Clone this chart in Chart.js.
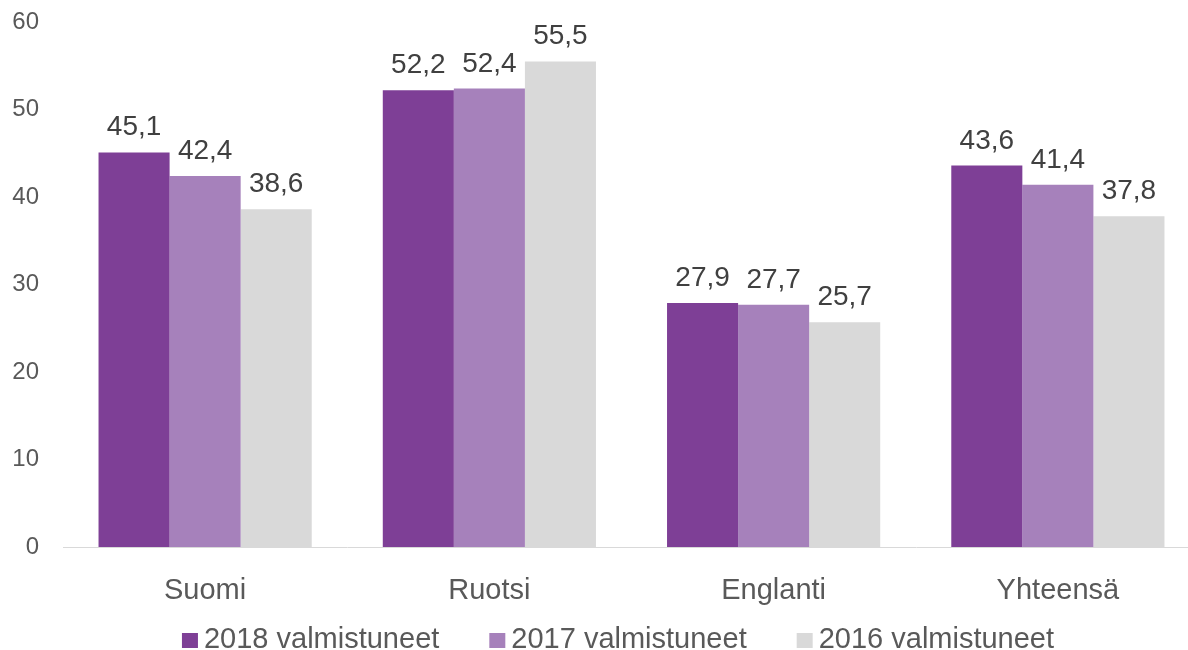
<!DOCTYPE html>
<html lang="fi">
<head>
    <meta charset="UTF-8">
    <title>Valmistuneet</title>
    <script src="https://cdn.jsdelivr.net/npm/chart.js@4/dist/chart.umd.min.js"></script>
    <style>
        body { margin: 0; background: #fff; overflow: hidden; }
        #wrap { width: 1188px; height: 650px; overflow: hidden; }
    </style>
</head>
<body>
<div id="wrap"><canvas id="myChart" width="1200" height="650"></canvas></div>
<script>
    // Data
    const categories = ['Suomi', 'Ruotsi', 'Englanti', 'Yhteensä'];
    const seriesNames = ['2018 valmistuneet', '2017 valmistuneet', '2016 valmistuneet'];
    const values2018 = [45.1, 52.2, 27.9, 43.6];
    const values2017 = [42.4, 52.4, 27.7, 41.4];
    const values2016 = [38.6, 55.5, 25.7, 37.8];
    const yTicks = [0, 10, 20, 30, 40, 50, 60];

    const colors = ['#7e3f96', '#a681bb', '#d9d9d9'];
    const fontFamily = '"Liberation Sans", Arial, sans-serif';

    // arvot palkkien päälle, pilkku desimaalierottimena
    const valueLabels = {
        id: 'valueLabels',
        afterDatasetsDraw(chart) {
            const ctx = chart.ctx;
            ctx.save();
            ctx.font = '28px ' + fontFamily;
            ctx.fillStyle = '#404040';
            ctx.textAlign = 'center';
            ctx.textBaseline = 'alphabetic';
            chart.data.datasets.forEach((ds, i) => {
                chart.getDatasetMeta(i).data.forEach((bar, j) => {
                    let txt = ds.data[j].toFixed(1).replace('.', ',');
                    ctx.fillText(txt, bar.x, bar.y - 17);
                });
            });
            ctx.restore();
        }
    };

    // selite alareunaan (Excel-tyylinen: pieni väli laatikon ja tekstin välissä)
    const bottomLegend = {
        id: 'bottomLegend',
        afterDraw(chart) {
            const ctx = chart.ctx;
            const box = 16, gap = 6, spacing = 50, center = 618, baseline = 648;
            ctx.save();
            ctx.font = '29px ' + fontFamily;
            ctx.textBaseline = 'alphabetic';
            const items = chart.data.datasets.map(ds => ({
                text: ds.label, color: ds.backgroundColor, w: ctx.measureText(ds.label).width
            }));
            let total = items.reduce((s, it) => s + box + gap + it.w, 0) + spacing * (items.length - 1);
            let x = center - total / 2;
            items.forEach(it => {
                ctx.fillStyle = it.color;
                ctx.fillRect(x, 633, box, 15);
                ctx.fillStyle = '#595959';
                ctx.fillText(it.text, x + box + gap, baseline);
                x += box + gap + it.w + spacing;
            });
            ctx.restore();
        }
    };

    const datasets = [values2018, values2017, values2016].map((vals, i) => ({
        label: seriesNames[i],
        data: vals,
        backgroundColor: colors[i],
        categoryPercentage: 0.75,
        barPercentage: 1.0
    }));

    new Chart(document.getElementById('myChart'), {
        type: 'bar',
        data: { labels: categories, datasets: datasets },
        options: {
            responsive: false,
            animation: false,
            layout: { padding: { top: 22, right: 0, left: 0, bottom: 34 } },
            plugins: {
                tooltip: { enabled: false },
                legend: { display: false }
            },
            scales: {
                x: {
                    grid: { display: false },
                    border: { color: '#d9d9d9', width: 1 },
                    ticks: { color: '#595959', font: { family: fontFamily, size: 29 }, padding: 19 },
                    afterFit: axis => { axis.height = 69; }
                },
                y: {
                    min: 0,
                    max: 60,
                    afterBuildTicks: axis => { axis.ticks = yTicks.map(v => ({ value: v })); },
                    afterFit: axis => { axis.width = 63; axis.paddingTop = 0; axis.paddingBottom = 0; },
                    grid: { display: false },
                    border: { display: false },
                    ticks: { color: '#595959', font: { family: fontFamily, size: 24 }, padding: 16 }
                }
            }
        },
        plugins: [valueLabels, bottomLegend]
    });
</script>
</body>
</html>
